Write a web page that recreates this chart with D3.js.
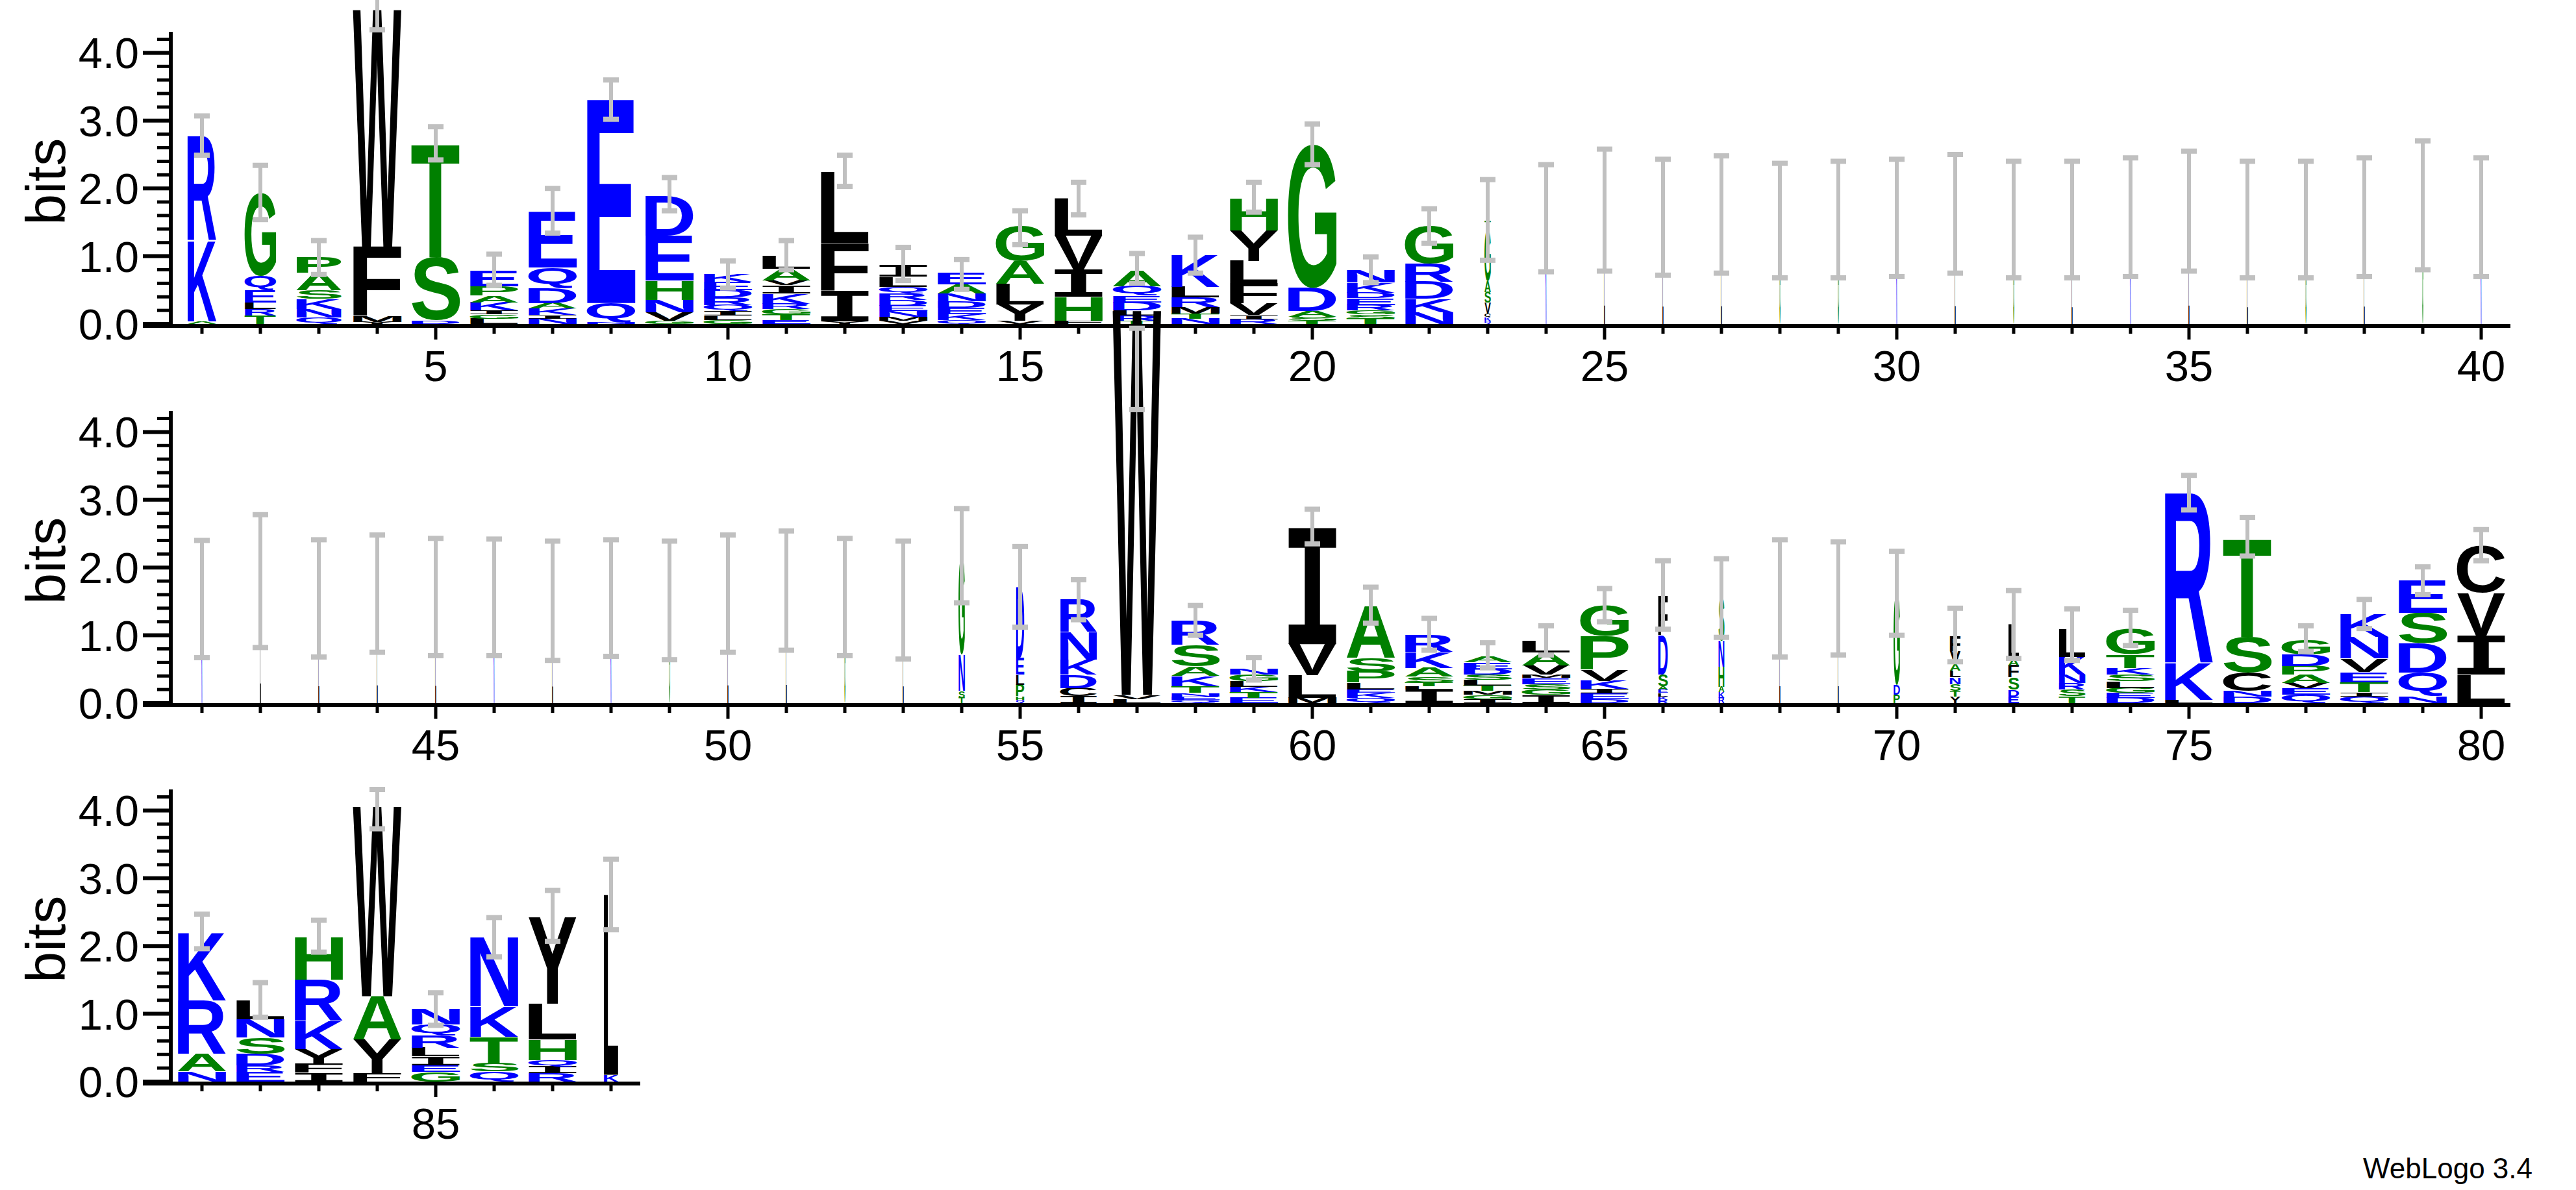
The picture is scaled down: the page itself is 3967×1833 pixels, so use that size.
<!DOCTYPE html>
<html><head><meta charset="utf-8">
<script src="https://cdn.jsdelivr.net/npm/d3@7"></script>
<style>body{margin:0;background:#fff}</style>
</head><body>
<svg id="c" width="3967" height="1833"></svg>
<script>
const stackLetters = [
"AKR","TRLEQG","QNKSAP","YMFW","DST","LGIKAPE","NIKADQE","NQE","GVNHED","GLIQRDEK",
"ETGRKIVAL","YIFL","VMNEDRQLI","QKEDNAE","VYLAG","FHIVL","TRLDEQA","NTMRLK","RIVFLYH","TSADG",
"TSGREDKN","NKDRG","QKCVSAGT","K","L","L","L","G","G","K",
"L","G","L","K","L","L","G","L","G","K",
"K","L","L","L","L","K","L","K","G","L",
"L","G","L","TSNG","QHPLED","ICDKNR","LVW","QENTKASR","ETKLGN","MLVI",
"QKELPSA","ILTSAKR","IGMTLSDEA","IGSEMVAL","DEIKVPG","RKLEASDF","RKAHNS","L","L","PDG",
"YTSNLAVF","EDSFAL","TSRNKL","DEGLSKTG","LKR","DNCST","QEVAPDG","QITEVNK","NQDSE","LIVC",
"NARK","ERDSNL","IFYKRH","FYAW","GEILRQN","QSTKN","RIQHLY","KL"];
const stackHeights = [
[0.04,1.2,1.54],[0.12,0.1,0.1,0.18,0.21,1.23],[0.1,0.12,0.15,0.13,0.25,0.24],[0.03,0.08,1.03,3.5],[0.05,0.93,1.68],
[0.08,0.06,0.06,0.12,0.1,0.14,0.23],[0.08,0.05,0.1,0.08,0.22,0.3,0.82],[0.02,0.29,3.0],[0.05,0.12,0.18,0.29,0.66,0.59],
[0.06,0.06,0.07,0.09,0.11,0.11,0.12,0.11],[0.06,0.08,0.08,0.08,0.15,0.12,0.07,0.17,0.19],[0.04,0.45,0.7,1.06],
[0.05,0.06,0.08,0.08,0.08,0.1,0.1,0.15,0.18],[0.06,0.08,0.1,0.1,0.11,0.13,0.17],[0.05,0.24,0.3,0.34,0.52],
[0.05,0.35,0.4,0.5,0.55],[0.05,0.07,0.08,0.12,0.1,0.14,0.24],[0.08,0.07,0.1,0.14,0.16,0.47],
[0.07,0.06,0.17,0.3,0.33,0.45,0.47],[0.05,0.06,0.08,0.34,2.12],[0.08,0.06,0.06,0.08,0.1,0.08,0.15,0.19],
[0.17,0.2,0.25,0.27,0.55],[0.05,0.05,0.05,0.16,0.16,0.16,0.76,0.14],
[1.56],[1.68],[1.58],[1.62],[1.53],[1.54],[1.57],[1.63],[1.54],[1.54],[1.58],[1.67],[1.54],[1.54],[1.58],[1.75],[1.58],
[1.54],[1.8],[1.55],[1.62],[1.57],[1.56],[1.51],[1.55],[1.52],[1.62],[1.66],[1.57],[1.52],
[0.08,0.1,0.54,1.45],[0.05,0.05,0.17,0.15,0.25,1.04],[0.1,0.12,0.2,0.22,0.41,0.48],[0.06,0.06,5.68],
[0.05,0.05,0.05,0.1,0.15,0.14,0.32,0.36],[0.08,0.08,0.08,0.08,0.1,0.08],[0.08,0.33,0.46,1.74],
[0.08,0.07,0.05,0.1,0.17,0.2,0.77],[0.2,0.05,0.06,0.08,0.13,0.24,0.24],[0.06,0.06,0.06,0.08,0.08,0.08,0.08,0.1,0.08],
[0.12,0.08,0.08,0.09,0.05,0.14,0.19,0.17],[0.06,0.08,0.07,0.12,0.16,0.5,0.45],[0.05,0.05,0.05,0.05,0.05,0.17,0.58,0.58],
[0.08,0.08,0.08,0.3,0.38,0.63],[1.55],[1.55],[0.12,0.15,1.35],[0.1,0.08,0.1,0.1,0.1,0.1,0.18,0.22],
[0.1,0.1,0.18,0.18,0.1,0.5],[0.1,0.1,0.1,0.12,0.26,0.41],[0.08,0.07,0.07,0.1,0.1,0.1,0.2,0.38],[0.05,0.55,2.5],
[0.1,0.08,0.27,0.53,1.46],[0.12,0.1,0.08,0.12,0.13,0.17,0.21],[0.1,0.06,0.15,0.15,0.2,0.32,0.33],[0.1,0.35,0.43,0.45,0.48],
[0.42,0.58,0.63,0.7],[0.15,0.26,0.79,1.01],[0.14,0.1,0.17,0.24,0.27,0.28],[0.13,0.13,0.22,0.42,0.6,0.64],
[0.12,0.5,0.64,2.8],[0.14,0.1,0.13,0.13,0.18,0.16,0.23],[0.15,0.12,0.39,0.45,1.03],[0.12,0.1,0.1,0.3,0.53,1.28],[0.1,2.66]];
const errLo = [2.49,1.54,0.73,4.34,2.42,0.57,1.34,3.02,1.67,0.53,0.8,2.03,0.64,0.51,1.17,1.61,0.6,0.75,1.65,2.35,
0.61,1.19,0.94,0.77,0.78,0.72,0.75,0.68,0.68,0.7,0.75,0.68,0.68,0.7,0.78,0.68,0.68,0.7,0.8,0.7,
0.67,0.82,0.68,0.75,0.7,0.7,0.63,0.69,0.64,0.75,0.78,0.7,0.65,1.48,1.12,1.23,4.33,1.0,0.34,2.35,
1.18,0.78,0.52,0.71,1.2,1.09,0.97,0.68,0.71,1.0,0.61,0.66,0.63,0.85,2.85,2.17,0.76,1.1,1.6,2.1,
1.96,0.95,1.91,3.73,0.83,1.84,2.07,2.24];
const errHi = [3.07,2.34,1.23,4.9,2.91,1.03,2.0,3.6,2.16,0.93,1.23,2.49,1.13,0.95,1.67,2.09,1.04,1.28,2.09,2.95,
0.99,1.7,2.13,2.35,2.58,2.43,2.48,2.37,2.4,2.43,2.5,2.4,2.4,2.45,2.55,2.4,2.4,2.45,2.7,2.45,
2.4,2.78,2.41,2.48,2.43,2.42,2.39,2.41,2.39,2.48,2.54,2.43,2.39,2.87,2.31,1.82,5.53,1.44,0.67,2.86,
1.71,1.25,0.89,1.14,1.69,2.1,2.13,2.41,2.38,2.24,1.4,1.66,1.39,1.37,3.36,2.74,1.14,1.53,2.01,2.56,
2.47,1.46,2.38,4.31,1.31,2.42,2.82,3.28];
const colWidth = [0.6,0.65,0.93,1,1,1,1,1,1,1,1,1,1,1,1,1,1,1,1,1,1,1,0.13,
0.02,0.02,0.02,0.02,0.02,0.02,0.02,0.02,0.02,0.02,0.02,0.02,0.02,0.02,0.02,0.02,0.02,
0.02,0.02,0.02,0.02,0.02,0.02,0.02,0.02,0.02,0.02,0.02,0.02,0.02,0.13,0.17,0.76,1,1,1,1,
1,1,1,1,1,0.2,0.12,0.02,0.02,0.13,0.22,0.22,0.55,1,1,1,1,1,1,1,
1,1,1,1,1,1,1,0.3];
const yTickLabels = ["0.0","1.0","2.0","3.0","4.0"];
const perRow = 40;

const blue = new Set("RKDENQ"), green = new Set("GSTAPH");
const colorOf = c => blue.has(c) ? "#0000ff" : green.has(c) ? "#008000" : "#000000";

const svg = d3.select("#c");
const axisX = 263, colW = 90, firstOff = 48, baselines = [499,1083,1666], bitPx = 104.4;
const font = "'Liberation Sans', Arial, sans-serif";
const monoFont = "'Liberation Mono', monospace";
const glyphFont = ch => ch === "I" ? monoFont : font;

function draw(){
  const cv = document.createElement("canvas").getContext("2d");
  const metrics = {};
  "ACDEFGHIKLMNPQRSTVWY".split("").forEach(ch=>{
    cv.font = ch === "I" ? "bold 100px 'Liberation Mono'" : "bold 100px 'Liberation Sans'";
    const m = cv.measureText(ch);
    metrics[ch] = {l:m.actualBoundingBoxLeft, r:m.actualBoundingBoxRight, a:m.actualBoundingBoxAscent, d:m.actualBoundingBoxDescent};
  });
  const n = stackLetters.length;
  const nRows = Math.ceil(n/perRow);
  for(let r=0;r<nRows;r++){
    const start = r*perRow, cnt = Math.min(perRow, n-start);
    const b = baselines[r];
    const y = d3.scaleLinear().domain([0,1]).range([b, b-bitPx]);
    const x = d3.scaleLinear().domain([start+1, start+2]).range([axisX+firstOff, axisX+firstOff+colW]);
    const g = svg.append("g");
    for(let i=start;i<start+cnt;i++){
      const cx = x(i+1), gw = 75*colWidth[i];
      let acc = 0;
      stackLetters[i].split("").forEach((ch,k)=>{
        const h = stackHeights[i][k];
        const y0 = y(acc+h), y1 = y(acc);
        acc += h;
        const m = metrics[ch];
        const iw = m.l+m.r, ih = m.a+m.d;
        const sx = gw/iw, sy = (y1-y0)/ih;
        g.append("text").text(ch)
          .attr("font-family",glyphFont(ch)).attr("font-weight","bold").attr("font-size",100)
          .attr("fill",colorOf(ch))
          .attr("transform",`translate(${cx-gw/2},${y0}) scale(${sx},${sy}) translate(${m.l},${m.a})`);
      });
    }
    for(let i=start;i<start+cnt;i++){
      const cx = x(i+1);
      g.append("line").attr("x1",cx).attr("x2",cx).attr("y1",y(errLo[i])).attr("y2",y(errHi[i]))
        .attr("stroke","#c0c0c0").attr("stroke-width",6);
      [errLo[i],errHi[i]].forEach(v=>g.append("rect").attr("x",cx-12).attr("y",y(v)-4).attr("width",24).attr("height",8).attr("fill","#c0c0c0"));
    }
    const ay = g.append("g").attr("font-family",font);
    ay.append("line").attr("x1",axisX).attr("x2",axisX).attr("y1",b+3).attr("y2",y(4.31)).attr("stroke","#000").attr("stroke-width",6);
    d3.range(0,22).forEach(k=>{
      const v = k*0.2, major = k%5===0;
      ay.append("line").attr("x1",axisX-(major?43:21)).attr("x2",axisX).attr("y1",y(v)).attr("y2",y(v)).attr("stroke","#000").attr("stroke-width",major?6:5);
    });
    yTickLabels.forEach((t,k)=>ay.append("text").text(t).attr("x",214).attr("y",y(k)+24).attr("text-anchor","end").attr("font-size",67));
    ay.append("text").text("bits").attr("transform",`translate(100,${y(2.1)}) rotate(-90)`).attr("text-anchor","middle").attr("font-size",86);
    const xEnd = x(start+cnt)+45;
    g.append("line").attr("x1",220).attr("x2",xEnd).attr("y1",b+3).attr("y2",b+3).attr("stroke","#000").attr("stroke-width",6);
    for(let i=start;i<start+cnt;i++){
      const p=i+1, major = p%5===0, cx=x(p);
      g.append("line").attr("x1",cx).attr("x2",cx).attr("y1",b+3).attr("y2",b+(major?24:15)).attr("stroke","#000").attr("stroke-width",5);
      if(major) g.append("text").text(p).attr("x",cx).attr("y",b+88).attr("text-anchor","middle").attr("font-family",font).attr("font-size",67);
    }
  }
  svg.append("text").text("WebLogo 3.4").attr("x",3900).attr("y",1815).attr("text-anchor","end").attr("font-family",font).attr("font-size",44);
}
Promise.all([document.fonts.load("bold 100px 'Liberation Sans'"),document.fonts.load("bold 100px 'Liberation Mono'")]).then(draw, draw);
</script>
</body></html>
